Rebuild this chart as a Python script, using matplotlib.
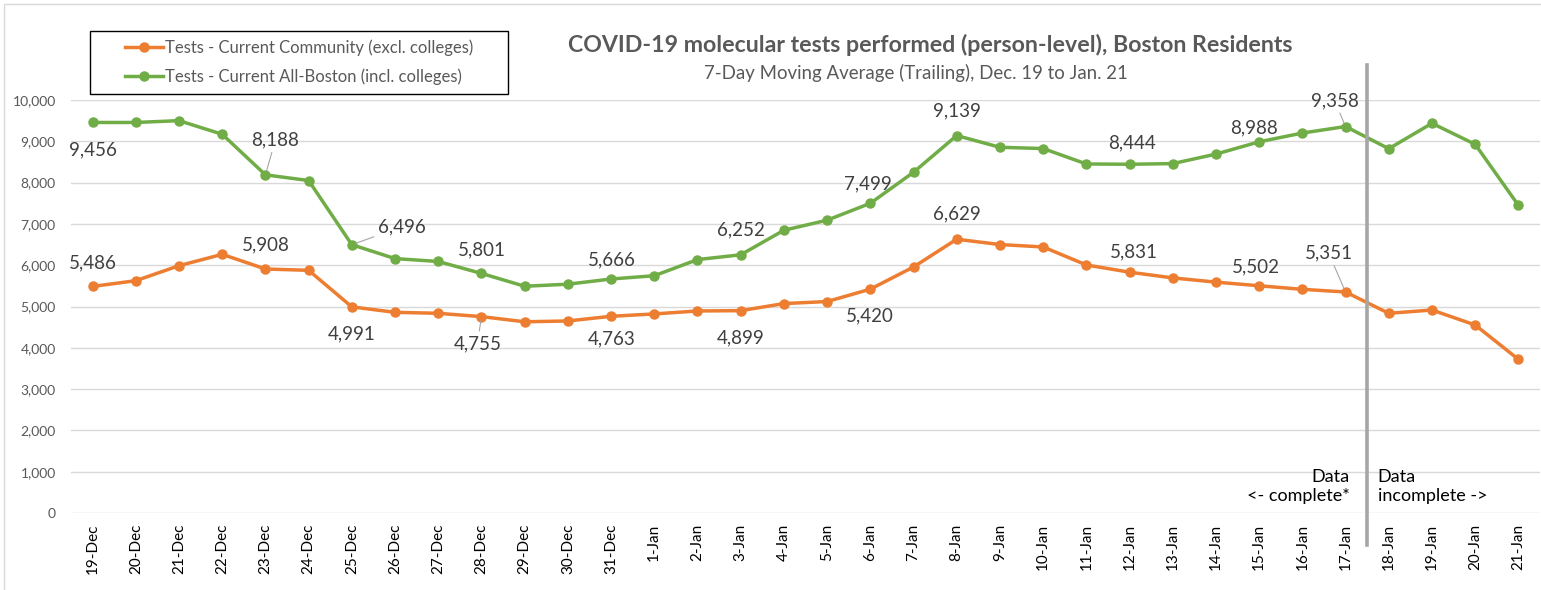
import numpy as np
import matplotlib
matplotlib.use("Agg")
import matplotlib.pyplot as plt
from matplotlib.patches import Rectangle

plt.rcParams['font.family'] = ['Lato', 'DejaVu Sans']

## Data
dates = ['19-Dec', '20-Dec', '21-Dec', '22-Dec', '23-Dec', '24-Dec', '25-Dec',
         '26-Dec', '27-Dec', '28-Dec', '29-Dec', '30-Dec', '31-Dec',
         '1-Jan', '2-Jan', '3-Jan', '4-Jan', '5-Jan', '6-Jan', '7-Jan',
         '8-Jan', '9-Jan', '10-Jan', '11-Jan', '12-Jan', '13-Jan', '14-Jan',
         '15-Jan', '16-Jan', '17-Jan', '18-Jan', '19-Jan', '20-Jan', '21-Jan']

community = [5486, 5625, 5988, 6263, 5908, 5876, 4991, 4859, 4835, 4755,
             4630, 4650, 4763, 4820, 4892, 4899, 5071, 5120, 5420, 5957,
             6629, 6500, 6442, 6006, 5831, 5692, 5590, 5502, 5416, 5351,
             4835, 4915, 4552, 3720]

all_boston = [9456, 9456, 9500, 9170, 8188, 8050, 6496, 6160, 6090, 5801,
              5490, 5540, 5666, 5745, 6136, 6252, 6846, 7090, 7499, 8250,
              9139, 8855, 8825, 8451, 8444, 8460, 8690, 8988, 9200, 9358,
              8821, 9436, 8927, 7450]

series_names = ['Tests - Current Community (excl. colleges)',
                'Tests - Current All-Boston (incl. colleges)']

title = 'COVID-19 molecular tests performed (person-level), Boston Residents'
subtitle = '7-Day Moving Average (Trailing), Dec. 19 to Jan. 21'

# which points get a data label: index -> (dx, dy) offset in pixels, leader line
green_labels = {0: (0, -27, False), 4: (10, 35, True), 6: (50, 18, True),
                9: (0, 24, False), 12: (1, 19, False), 15: (0, 25, False),
                18: (-2, 19, False), 20: (0, 25, False), 24: (2, 21, False),
                27: (-5, 14, False), 29: (-11, 26, True)}
orange_labels = {0: (0, 24, False), 4: (0, 24, False), 6: (0, -27, False),
                 9: (-4, -27, True), 12: (1, -23, False), 15: (0, -27, False),
                 18: (0, -27, False), 20: (0, 25, False), 24: (4, 20, False),
                 27: (-3, 19, False), 29: (-17, 39, True)}

ORANGE = '#ED7D31'
GREEN = '#70AD47'
GRID = '#D9D9D9'
TXT = '#595959'
LBL = '#404040'

W, H = 1541, 590
fig = plt.figure(figsize=(W / 100, H / 100), dpi=100)
ax = fig.add_axes([71 / W, 1 - 513 / H, 1469 / W, 413 / H])

x = np.arange(len(dates))
l1, = ax.plot(x, community, color=ORANGE, lw=2.5, marker='o', ms=6.5,
              label=series_names[0], solid_joinstyle='round')
l2, = ax.plot(x, all_boston, color=GREEN, lw=2.5, marker='o', ms=6.5,
              label=series_names[1], solid_joinstyle='round')

ax.set_xlim(-0.5, len(dates) - 0.5)
ax.set_ylim(0, 10000)
ax.set_yticks(np.arange(0, 10001, 1000))
ax.yaxis.set_major_formatter(matplotlib.ticker.FuncFormatter(lambda v, p: f'{int(v):,}'))
ax.set_xticks(x)
ax.set_xticklabels(dates, rotation=90)
ax.tick_params(axis='both', length=0, colors=TXT)
ax.tick_params(axis='y', pad=11, labelsize=10)
ax.tick_params(axis='x', pad=8, labelsize=11, labelcolor='black')
ax.grid(axis='y', color=GRID, lw=1)
ax.set_axisbelow(True)
for s in ax.spines.values():
    s.set_visible(False)

# data labels
for vals, spec in ((all_boston, green_labels), (community, orange_labels)):
    for i, (dx, dy, lead) in spec.items():
        kw = {}
        if lead:
            kw['arrowprops'] = dict(arrowstyle='-', color='#A6A6A6', lw=0.8,
                                    shrinkA=1, shrinkB=3)
        ax.annotate(f'{vals[i]:,}', (x[i], vals[i]), xytext=(dx, dy),
                    textcoords='offset pixels', ha='center', va='center',
                    fontsize=13.5, color=LBL, **kw)

# complete / incomplete divider
ax.axvline(29.5, ymin=-0.077, ymax=1.085, color='#A6A6A6', lw=2.6, clip_on=False)
ax.text(29.5 - 0.4, 640, 'Data\n<- complete*', ha='right', va='center',
        fontsize=13, color='black', linespacing=1.25)
ax.text(29.5 + 0.24, 640, 'Data\nincomplete ->', ha='left', va='center',
        fontsize=13, color='black', linespacing=1.25)

# titles
fig.text(930 / W, 1 - 45 / H, title, ha='center', va='center', fontsize=16.7,
         weight='bold', color=TXT)
fig.text(916 / W, 1 - 73 / H, subtitle, ha='center', va='center', fontsize=13.4,
         color=TXT)

# legend in a plain black box
fig.patches.append(Rectangle((90 / W, 1 - 94 / H), 418 / W, 63 / H,
                             transform=fig.transFigure, fill=False,
                             edgecolor='black', lw=1))
fig.legend(handles=[l1, l2], loc='center', bbox_to_anchor=(299 / W, 1 - 62.5 / H),
           frameon=False, fontsize=12, handlelength=2.3, handletextpad=0.1,
           labelspacing=0.75, labelcolor=TXT)

# chart area border (left and top edges visible)
fig.patches.append(Rectangle((4 / W, -0.05), 1.1, 1 - 4 / H + 0.05,
                             transform=fig.transFigure, fill=False,
                             edgecolor=GRID, lw=1))

fig.savefig('out.png', dpi=100)
